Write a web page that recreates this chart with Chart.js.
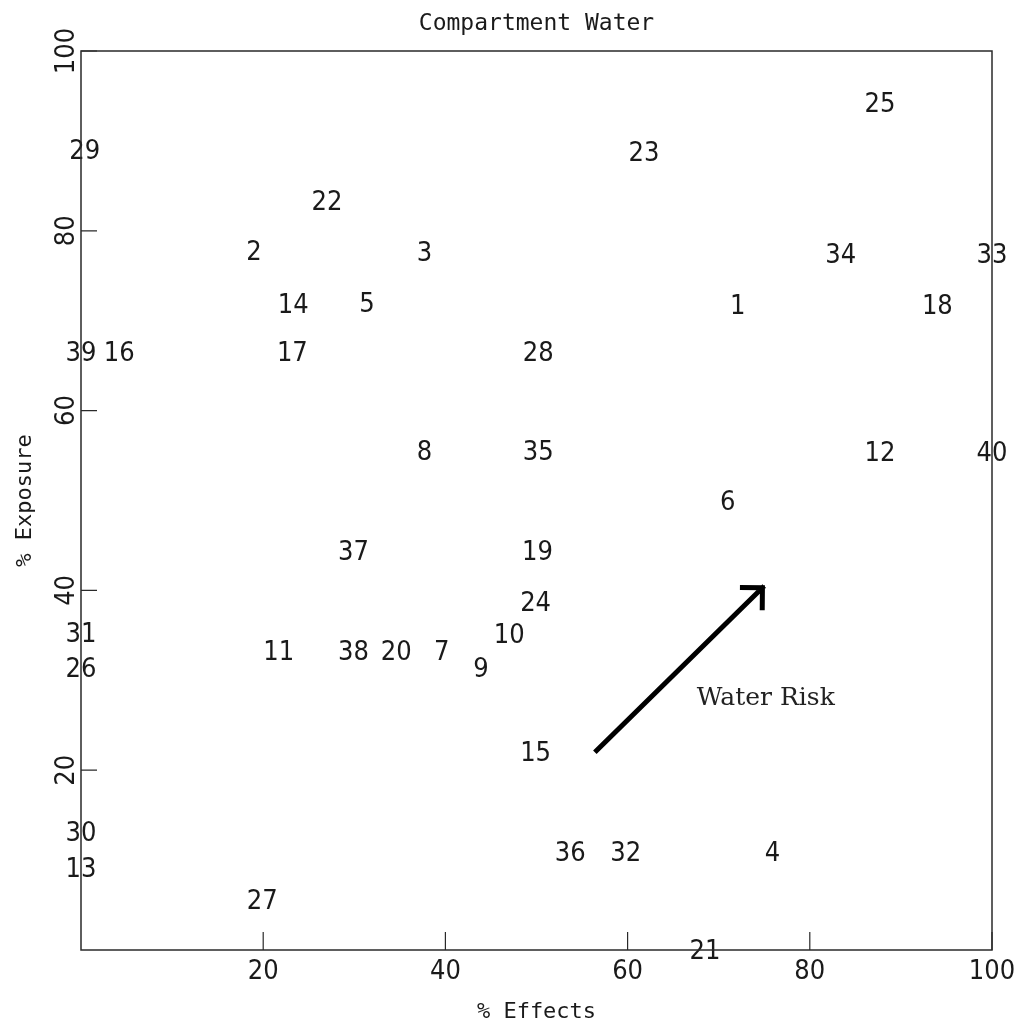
<!DOCTYPE html>
<html>
<head>
<meta charset="utf-8">
<title>Compartment Water</title>
<script src="https://cdn.jsdelivr.net/npm/chart.js@4.4.1/dist/chart.umd.min.js"></script>
<style>
  html, body { margin: 0; padding: 0; background: #fff; }
  #wrap { width: 1017px; height: 1026px; }
</style>
</head>
<body>
<div id="wrap"><canvas id="waterChart" width="1017" height="1026"></canvas></div>
<script>
// compound numbers and their scores (% of max) in the water compartment
const compounds = [1, 2, 3, 4, 5, 6, 7, 8, 9, 10,
                   11, 12, 13, 14, 15, 16, 17, 18, 19, 20,
                   21, 22, 23, 24, 25, 26, 27, 28, 29, 30,
                   31, 32, 33, 34, 35, 36, 37, 38, 39, 40];
const effects = [72.1, 19.0, 37.7, 75.9, 31.4, 71.0, 39.6, 37.7, 43.9, 47.0,
                 21.7, 87.7, 0, 23.3, 49.9, 4.2, 23.2, 94.0, 50.1, 34.6,
                 68.5, 27.0, 61.8, 49.9, 87.7, 0, 19.9, 50.2, 0.4, 0,
                 0, 59.8, 100, 83.4, 50.2, 53.7, 29.9, 29.9, 0, 100];
const exposure = [71.8, 77.8, 77.6, 10.9, 72.0, 49.9, 33.3, 55.5, 31.4, 35.2,
                  33.3, 55.4, 9.1, 71.9, 22.0, 66.5, 66.5, 71.8, 44.4, 33.3,
                  0, 83.3, 88.8, 38.7, 94.2, 31.4, 5.6, 66.5, 89.0, 13.1,
                  35.3, 10.9, 77.4, 77.4, 55.5, 10.9, 44.4, 33.3, 66.5, 55.4];
const effectTicks = [20, 40, 60, 80, 100];
const exposureTicks = [20, 40, 60, 80, 100];

const INK = '#1a1a1a';
const DIGITS = '"Liberation Sans Narrow", "DejaVu Sans Condensed", sans-serif';
const MONO = '"DejaVu Sans Mono", "Liberation Mono", monospace';

// numbers drawn in place of point markers
const compoundLabels = {
  id: 'compoundLabels',
  afterDatasetsDraw(chart) {
    const { ctx } = chart;
    const meta = chart.getDatasetMeta(0);
    ctx.save();
    ctx.font = '27px ' + DIGITS;
    ctx.fillStyle = INK;
    ctx.textAlign = 'center';
    ctx.textBaseline = 'middle';
    meta.data.forEach((pt, i) => ctx.fillText(String(compounds[i]), pt.x, pt.y + 2));
    ctx.restore();
  }
};

// box round the plot, inward tick marks and the heading
const frame = {
  id: 'frame',
  afterDraw(chart) {
    const { ctx, chartArea: a, scales: { x, y } } = chart;
    ctx.save();
    ctx.strokeStyle = '#2a2a2a';
    ctx.lineWidth = 1.5;
    ctx.strokeRect(a.left, a.top, a.right - a.left, a.bottom - a.top);
    ctx.lineWidth = 1.2;
    ctx.beginPath();
    effectTicks.forEach(v => {
      const px = x.getPixelForValue(v);
      ctx.moveTo(px, a.bottom);
      ctx.lineTo(px, a.bottom - 18);
    });
    exposureTicks.forEach(v => {
      const py = y.getPixelForValue(v);
      ctx.moveTo(a.left, py);
      ctx.lineTo(a.left + 16, py);
    });
    ctx.stroke();

    ctx.font = '23px ' + MONO;
    ctx.fillStyle = INK;
    ctx.textAlign = 'center';
    ctx.textBaseline = 'middle';
    ctx.fillText('Compartment Water', (a.left + a.right) / 2, 24);
    ctx.restore();
  }
};

// "Water Risk" arrow
const riskArrow = {
  id: 'riskArrow',
  afterDraw(chart, args, opts) {
    const { ctx, scales: { x, y } } = chart;
    const x0 = x.getPixelForValue(opts.from[0]), y0 = y.getPixelForValue(opts.from[1]);
    const x1 = x.getPixelForValue(opts.to[0]), y1 = y.getPixelForValue(opts.to[1]);
    const ang = Math.atan2(y1 - y0, x1 - x0);
    const head = 20;
    ctx.save();
    ctx.strokeStyle = '#000';
    ctx.lineWidth = 5;
    ctx.lineCap = 'square';
    ctx.beginPath();
    ctx.moveTo(x0, y0);
    ctx.lineTo(x1, y1);
    ctx.moveTo(x1 - head * Math.cos(ang - Math.PI / 4), y1 - head * Math.sin(ang - Math.PI / 4));
    ctx.lineTo(x1, y1);
    ctx.lineTo(x1 - head * Math.cos(ang + Math.PI / 4), y1 - head * Math.sin(ang + Math.PI / 4));
    ctx.stroke();
    ctx.font = '25px "DejaVu Serif", "Liberation Serif", serif';
    ctx.fillStyle = '#222';
    ctx.textAlign = 'left';
    ctx.textBaseline = 'alphabetic';
    ctx.fillText(opts.text, x.getPixelForValue(opts.textAt[0]), y.getPixelForValue(opts.textAt[1]));
    ctx.restore();
  }
};

new Chart(document.getElementById('waterChart'), {
  type: 'scatter',
  data: {
    datasets: [{
      label: 'Compounds',
      data: compounds.map((c, i) => ({ x: effects[i], y: exposure[i] })),
      pointRadius: 0,
      pointHoverRadius: 0
    }]
  },
  options: {
    responsive: false,
    animation: false,
    layout: { padding: { top: 51, right: 25, left: 0, bottom: 0 } },
    plugins: {
      legend: { display: false },
      tooltip: { enabled: false },
      riskArrow: { from: [56.6, 22.2], to: [74.8, 40.3], text: 'Water Risk', textAt: [67.6, 27.3] }
    },
    scales: {
      x: {
        type: 'linear',
        min: 0,
        max: 100,
        afterBuildTicks: s => { s.ticks = effectTicks.map(v => ({ value: v })); },
        afterFit: s => { s.height = 76; s.paddingLeft = 0; s.paddingRight = 0; },
        grid: { display: false, drawTicks: false },
        border: { display: false },
        ticks: { color: INK, font: { family: DIGITS, size: 27 }, padding: 6, maxRotation: 0 },
        title: { display: true, text: '% Effects', color: INK, font: { family: MONO, size: 22 }, padding: { top: 0, bottom: 1 } }
      },
      y: {
        type: 'linear',
        min: 0,
        max: 100,
        afterBuildTicks: s => { s.ticks = exposureTicks.map(v => ({ value: v })); },
        afterFit: s => { s.width = 81; s.paddingTop = 0; s.paddingBottom = 0; },
        grid: { display: false, drawTicks: false },
        border: { display: false },
        ticks: { color: INK, font: { family: DIGITS, size: 27 }, padding: -9, minRotation: 90, maxRotation: 90, crossAlign: 'center' },
        title: { display: true, text: '% Exposure', color: INK, font: { family: MONO, size: 22 }, padding: { top: 12, bottom: 0 } }
      }
    }
  },
  plugins: [compoundLabels, frame, riskArrow]
});
</script>
</body>
</html>
